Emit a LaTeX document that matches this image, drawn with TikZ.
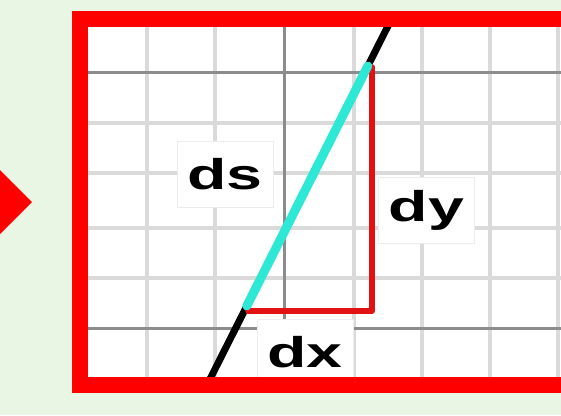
\documentclass[tikz,border=0pt]{standalone}
\usepackage{fontspec}
\setmainfont{Liberation Sans}
\usepackage{graphicx}
\usetikzlibrary{positioning}
\definecolor{bgGreen}{RGB}{234,246,228}
\definecolor{frameRed}{RGB}{255,0,0}
\definecolor{legRed}{RGB}{226,18,18}
\definecolor{dsCyan}{RGB}{45,232,212}
\definecolor{gridLight}{RGB}{218,218,218}
\definecolor{gridDark}{RGB}{140,140,140}

\begin{document}
\begin{tikzpicture}[x=1pt,y=-1pt,
                    grid light/.style={draw=gridLight,line width=3.5pt},
                    grid dark/.style={draw=gridDark,line width=3pt},
                    label box/.style={rectangle,draw=black!7,fill=white,line width=0.8pt,
                    minimum width=96pt,minimum height=66pt,inner sep=0pt,
                    font=\fontsize{43}{50}\selectfont\bfseries},
                    slope line/.style={draw=black,line width=7pt},
                    ds piece/.style={draw=dsCyan,line width=9pt,line cap=round},
                    leg/.style={draw=legRed,line width=5.5pt,line cap=round,line join=round}]

\clip (0,0) rectangle (561,415);
\fill[bgGreen] (0,0) rectangle (561,415);

% arrow tip at the left edge
\fill[frameRed] (-20,150) -- (32,202) -- (-20,254) -- cycle;

% paper and grid
\fill[white] (80,19) rectangle (620,385);
\foreach \gx in {147,215,354,422,490,558}
    \draw[grid light] (\gx,19) -- (\gx,385);
\foreach \gy in {123,173,228,278}
    \draw[grid light] (80,\gy) -- (620,\gy);
\draw[grid dark] (284,19) -- (284,385);
\draw[grid dark] (80,72) -- (620,72);
\draw[grid dark] (80,328) -- (620,328);

% labels
\node[label box] (ds) at (225,174) {\scalebox{1.5}[1]{ds}};
\node[label box] (dy) at (426.5,210) {\scalebox{1.5}[1]{dy}};
\node[label box] (dx) at (305,352) {\scalebox{1.5}[1]{dx}};

% the curve, its element and the two legs
\coordinate (lineTop) at (391.5,19);
\coordinate (lineBot) at (207,385);
\coordinate (sTop) at (367.8,66);
\coordinate (sBot) at (246.8,306);
\coordinate (legStart) at (248,311);
\coordinate (corner) at (372,311);
\coordinate (legTop) at (372,67);

\draw[slope line] (lineBot) -- (lineTop);
\draw[leg] (legStart) -- (corner) -- (legTop);
\draw[ds piece] (sBot) -- (sTop);

% frame
\draw[frameRed,line width=16pt] (80,19) rectangle (640,384.5);

\end{tikzpicture}
\end{document}
